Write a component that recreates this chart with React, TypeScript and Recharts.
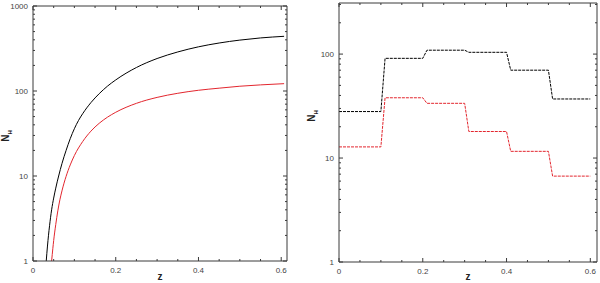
import React from 'react';
import { LineChart, Line, XAxis, YAxis } from 'recharts';

// ---- Left panel: cumulative curves ----
const leftZBlack = [0.032, 0.035, 0.04, 0.045, 0.05, 0.055, 0.062, 0.07, 0.08, 0.09, 0.1, 0.11, 0.12, 0.14, 0.16, 0.18, 0.2, 0.25, 0.3, 0.35, 0.4, 0.45, 0.5, 0.55, 0.607];
const leftNBlack = [1, 1.5, 2.6, 4, 5.5, 7.2, 10, 14, 20, 27.5, 36, 45, 54, 73, 93, 114, 135, 189, 241, 288, 331, 367, 397, 421, 440];
const leftZRed = [0.045, 0.048, 0.05, 0.055, 0.06, 0.065, 0.07, 0.08, 0.09, 0.1, 0.12, 0.14, 0.16, 0.18, 0.2, 0.25, 0.3, 0.35, 0.4, 0.45, 0.5, 0.55, 0.607];
const leftNRed = [1, 1.41, 1.74, 2.69, 3.89, 5.25, 6.68, 9.9, 13.5, 17.4, 25.4, 33.7, 41.7, 49.2, 56.2, 71.6, 84.1, 94, 102, 108, 113.8, 118, 122];

// ---- Right panel: binned step curves ----
const rightZ = [0, 0.1, 0.11, 0.2, 0.21, 0.3, 0.31, 0.4, 0.41, 0.5, 0.51, 0.6];
const rightNBlack = [28, 28, 91, 91, 109, 109, 104, 104, 70, 70, 37, 37];
const rightNRed = [12.8, 12.8, 38, 38, 33.6, 33.6, 18, 18, 11.6, 11.6, 6.7, 6.7];

// ---- Ticks ----
const xTicks = [0, 0.05, 0.1, 0.15, 0.2, 0.25, 0.3, 0.35, 0.4, 0.45, 0.5, 0.55, 0.6];
const xMajor = [0, 0.2, 0.4, 0.6];
const xLabels = ['0', '0.2', '0.4', '0.6'];
const leftYTicks = [1, 2, 3, 4, 5, 6, 7, 8, 9, 10, 20, 30, 40, 50, 60, 70, 80, 90, 100, 200, 300, 400, 500, 600, 700, 800, 900, 1000];
const leftYMajor = [1, 10, 100, 1000];
const leftYLabels = ['1', '10', '100', '1000'];
const rightYTicks = [1, 2, 3, 4, 5, 6, 7, 8, 9, 10, 20, 30, 40, 50, 60, 70, 80, 90, 100, 200, 300];
const rightYMajor = [1, 10, 100];
const rightYLabels = ['1', '10', '100'];

const zip = (zs: number[], ns: number[]) => zs.map((z, i) => ({ z, n: ns[i] }));

const AXIS = '#3a3a3a';
const LABEL = '#444';
const FONT = '"Liberation Sans", Arial, sans-serif';

function TickMark(props: any) {
  const { x, y, payload, side, majors, labels } = props;
  const v = payload.value;
  const mi = majors.findIndex((m: number) => Math.abs(m - v) < 1e-9);
  const isMajor = mi >= 0;
  const len = isMajor ? 4 : 2;
  let line;
  let text = null;
  if (side === 'bottom') {
    line = <line x1={x} y1={y} x2={x} y2={y - len} stroke={AXIS} strokeWidth={1} />;
    if (isMajor && labels) text = <text x={x} y={y + 12} textAnchor="middle" fontSize={8} fontFamily={FONT} fill={LABEL}>{labels[mi]}</text>;
  } else if (side === 'top') {
    line = <line x1={x} y1={y} x2={x} y2={y + len} stroke={AXIS} strokeWidth={1} />;
  } else if (side === 'left') {
    line = <line x1={x} y1={y} x2={x + len} y2={y} stroke={AXIS} strokeWidth={1} />;
    if (isMajor && labels) text = <text x={x - 5} y={y + 3} textAnchor="end" fontSize={8} fontFamily={FONT} fill={LABEL}>{labels[mi]}</text>;
  } else {
    line = <line x1={x} y1={y} x2={x - len} y2={y} stroke={AXIS} strokeWidth={1} />;
  }
  return <g>{line}{text}</g>;
}

function Panel(props: any) {
  const { xDomain, yDomain, yTicks, yMajor, yLabels, series, margins, width, height } = props;
  return (
    <LineChart width={width} height={height} margin={{ top: 0, right: 0, bottom: 0, left: 0 }}>
      <XAxis xAxisId="b" dataKey="z" type="number" domain={xDomain} allowDataOverflow ticks={xTicks} interval={0}
        orientation="bottom" height={margins.bottom} tickSize={0} tickMargin={0}
        axisLine={{ stroke: AXIS, strokeWidth: 1 }}
        tick={(p: any) => <TickMark {...p} side="bottom" majors={xMajor} labels={xLabels} />} />
      <XAxis xAxisId="t" dataKey="z" type="number" domain={xDomain} allowDataOverflow ticks={xTicks} interval={0}
        orientation="top" height={margins.top} tickSize={0} tickMargin={0}
        axisLine={{ stroke: AXIS, strokeWidth: 1 }}
        tick={(p: any) => <TickMark {...p} side="top" majors={xMajor} />} />
      <YAxis yAxisId="l" type="number" scale="log" domain={yDomain} allowDataOverflow ticks={yTicks} interval={0}
        orientation="left" width={margins.left} tickSize={0} tickMargin={0}
        axisLine={{ stroke: AXIS, strokeWidth: 1 }}
        tick={(p: any) => <TickMark {...p} side="left" majors={yMajor} labels={yLabels} />} />
      <YAxis yAxisId="r" type="number" scale="log" domain={yDomain} allowDataOverflow ticks={yTicks} interval={0}
        orientation="right" width={margins.right} tickSize={0} tickMargin={0}
        axisLine={{ stroke: AXIS, strokeWidth: 1 }}
        tick={(p: any) => <TickMark {...p} side="right" majors={yMajor} />} />
      {series.map((s: any, i: number) => (
        <Line key={i} xAxisId="b" yAxisId="l" data={s.data} dataKey="n" type={s.curve || 'linear'} dot={false}
          stroke={s.color} strokeWidth={1} strokeDasharray={s.dash} isAnimationActive={false} />
      ))}
    </LineChart>
  );
}

function YTitle({ x, y }: { x: number; y: number }) {
  return (
    <text transform={`translate(${x},${y}) rotate(-90)`} textAnchor="middle" fontSize={10} fontWeight="bold" fontFamily={FONT} fill="#222">
      N<tspan fontSize={6} dy={3}>H</tspan>
    </text>
  );
}

export default function App() {
  return (
    <div style={{ position: 'absolute', left: 0, top: 0, width: 600, height: 283, background: '#fff' }}>
      <div style={{ position: 'absolute', left: 0, top: 0 }}>
        <Panel width={300} height={283} xDomain={[0, 0.614]} yDomain={[1, 1000]}
          yTicks={leftYTicks} yMajor={leftYMajor} yLabels={leftYLabels}
          margins={{ left: 33, right: 13, top: 6, bottom: 22 }}
          series={[
            { data: zip(leftZBlack, leftNBlack), color: '#000', curve: 'monotone' },
            { data: zip(leftZRed, leftNRed), color: '#e3262e', curve: 'monotone' },
          ]} />
      </div>
      <div style={{ position: 'absolute', left: 300, top: 0 }}>
        <Panel width={300} height={283} xDomain={[0, 0.616]} yDomain={[1, 310]}
          yTicks={rightYTicks} yMajor={rightYMajor} yLabels={rightYLabels}
          margins={{ left: 39, right: 3, top: 3, bottom: 21 }}
          series={[
            { data: zip(rightZ, rightNBlack), color: '#000', dash: '3 1' },
            { data: zip(rightZ, rightNRed), color: '#e3262e', dash: '3 1' },
          ]} />
      </div>
      <svg width={600} height={283} style={{ position: 'absolute', left: 0, top: 0, pointerEvents: 'none' }}>
        <text x={160} y={280} textAnchor="middle" fontSize={10} fontWeight="bold" fontFamily={FONT} fill="#222">z</text>
        <text x={468} y={280} textAnchor="middle" fontSize={10} fontWeight="bold" fontFamily={FONT} fill="#222">z</text>
        <YTitle x={9} y={136} />
        <YTitle x={315} y={116} />
      </svg>
    </div>
  );
}
